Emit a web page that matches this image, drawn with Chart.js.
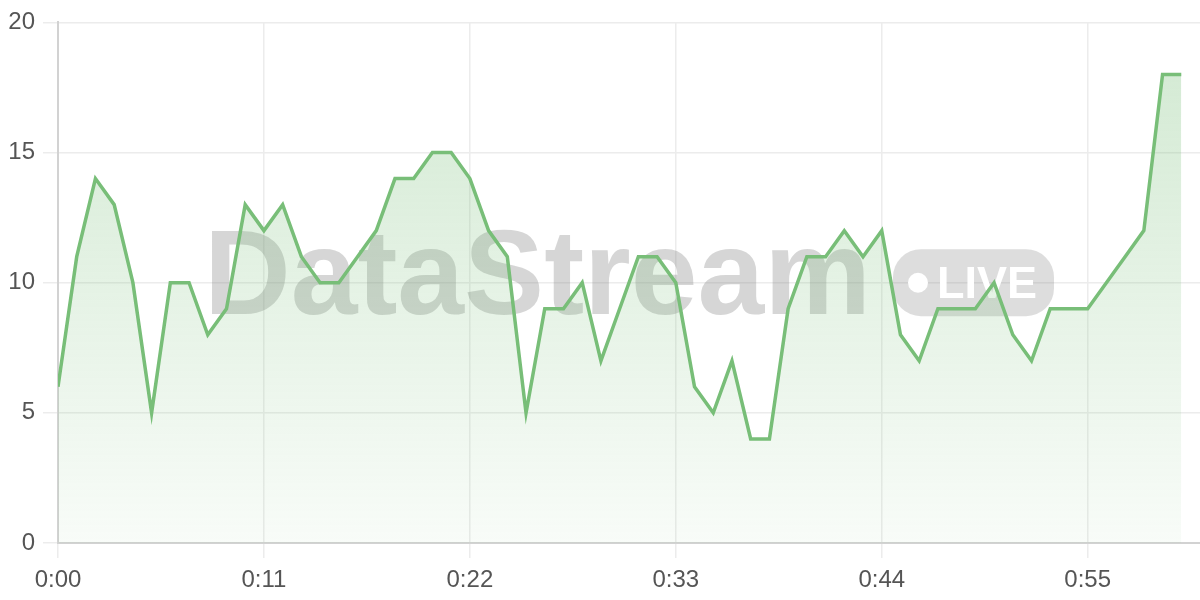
<!DOCTYPE html>
<html>
<head>
<meta charset="utf-8">
<title>DataStream live</title>
<script src="https://cdn.jsdelivr.net/npm/chart.js@4.4.1/dist/chart.umd.min.js"></script>
<style>
    html, body { margin: 0; padding: 0; background: #ffffff; }
    #wrap { width: 1200px; height: 600px; }
</style>
</head>
<body>
<div id="wrap"><canvas id="streamChart"></canvas></div>
<script>
// elapsed seconds, one sample per second
const seconds = [
    0, 1, 2, 3, 4, 5, 6, 7, 8, 9,
    10, 11, 12, 13, 14, 15, 16, 17, 18, 19,
    20, 21, 22, 23, 24, 25, 26, 27, 28, 29,
    30, 31, 32, 33, 34, 35, 36, 37, 38, 39,
    40, 41, 42, 43, 44, 45, 46, 47, 48, 49,
    50, 51, 52, 53, 54, 55, 56, 57, 58, 59,
    60
];
const values = [
    6, 11, 14, 13, 10, 5, 10, 10, 8, 9,
    13, 12, 13, 11, 10, 10, 11, 12, 14, 14,
    15, 15, 14, 12, 11, 5, 9, 9, 10, 7,
    9, 11, 11, 10, 6, 5, 7, 4, 4, 9,
    11, 11, 12, 11, 12, 8, 7, 9, 9, 9,
    10, 8, 7, 9, 9, 9, 10, 11, 12, 18,
    18
];
const xTicks = [0, 11, 22, 33, 44, 55];
const yTicks = [0, 5, 10, 15, 20];

const lineColor = 'rgb(120, 190, 120)';

function fmtTime(s) {
    return Math.floor(s / 60) + ':' + String(s % 60).padStart(2, '0');
}

const watermark = {
    id: 'watermark',
    beforeDatasetsDraw(chart) {
        const { ctx, chartArea } = chart;
        const cx = (chartArea.left + chartArea.right) / 2;
        const cy = (chartArea.top + chartArea.bottom) / 2;
        ctx.save();
        ctx.font = 'bold 120px "Liberation Sans", Arial, sans-serif';
        const word = 'DataStream';
        const tw = ctx.measureText(word).width;
        const gap = 22, pillW = 161, pillH = 67;
        const left = cx - (tw + gap + pillW) / 2;

        ctx.fillStyle = 'rgba(120, 120, 120, 0.3)';
        ctx.textBaseline = 'alphabetic';
        ctx.fillText(word, left, cy + 31);

        // "LIVE" badge
        const px = left + tw + gap, py = cy - pillH / 2;
        ctx.fillStyle = 'rgba(120, 120, 120, 0.25)';
        ctx.beginPath();
        ctx.roundRect(px, py, pillW, pillH, 28);
        ctx.fill();

        ctx.fillStyle = '#ffffff';
        ctx.beginPath();
        ctx.arc(px + 25, cy, 10, 0, Math.PI * 2);
        ctx.fill();
        ctx.font = 'bold 45px "Liberation Sans", Arial, sans-serif';
        ctx.fillText('LIVE', px + 44, cy + 15);
        ctx.restore();
    }
};

const ctx = document.getElementById('streamChart').getContext('2d');
const streamChart = new Chart(ctx, {
    type: 'line',
    data: {
        datasets: [{
            label: 'Stream',
            data: seconds.map((s, i) => ({ x: s, y: values[i] })),
            borderColor: lineColor,
            borderWidth: 3.5,
            tension: 0,
            pointRadius: 0,
            fill: 'origin',
            backgroundColor: function (context) {
                const area = context.chart.chartArea;
                if (!area) return 'rgba(120, 190, 120, 0.15)';
                const g = context.chart.ctx.createLinearGradient(0, area.top, 0, area.bottom);
                g.addColorStop(0, 'rgba(120, 190, 120, 0.34)');
                g.addColorStop(1, 'rgba(120, 190, 120, 0.05)');
                return g;
            }
        }]
    },
    options: {
        responsive: true,
        maintainAspectRatio: false,
        animation: false,
        layout: { padding: { top: 20 } },
        plugins: {
            legend: { display: false },
            tooltip: { enabled: false }
        },
        scales: {
            x: {
                type: 'linear',
                min: 0,
                max: 61,
                afterBuildTicks: axis => { axis.ticks = xTicks.map(v => ({ value: v })); },
                afterFit: axis => { axis.height = 57; },
                grid: { color: '#ececec', lineWidth: 1.5, tickLength: 15 },
                border: { color: '#d2d2d2', width: 2 },
                ticks: {
                    color: '#555',
                    padding: 8,
                    maxRotation: 0,
                    font: { family: '"Liberation Sans", Arial, sans-serif', size: 24 },
                    callback: v => fmtTime(v)
                }
            },
            y: {
                min: 0,
                max: 20,
                afterBuildTicks: axis => { axis.ticks = yTicks.map(v => ({ value: v })); },
                afterFit: axis => { axis.width = 58; },
                grid: { color: '#ececec', lineWidth: 1.5, tickLength: 15 },
                border: { color: '#d2d2d2', width: 2 },
                ticks: {
                    color: '#555',
                    padding: 8,
                    font: { family: '"Liberation Sans", Arial, sans-serif', size: 24 }
                }
            }
        }
    },
    plugins: [watermark]
});
</script>
</body>
</html>
